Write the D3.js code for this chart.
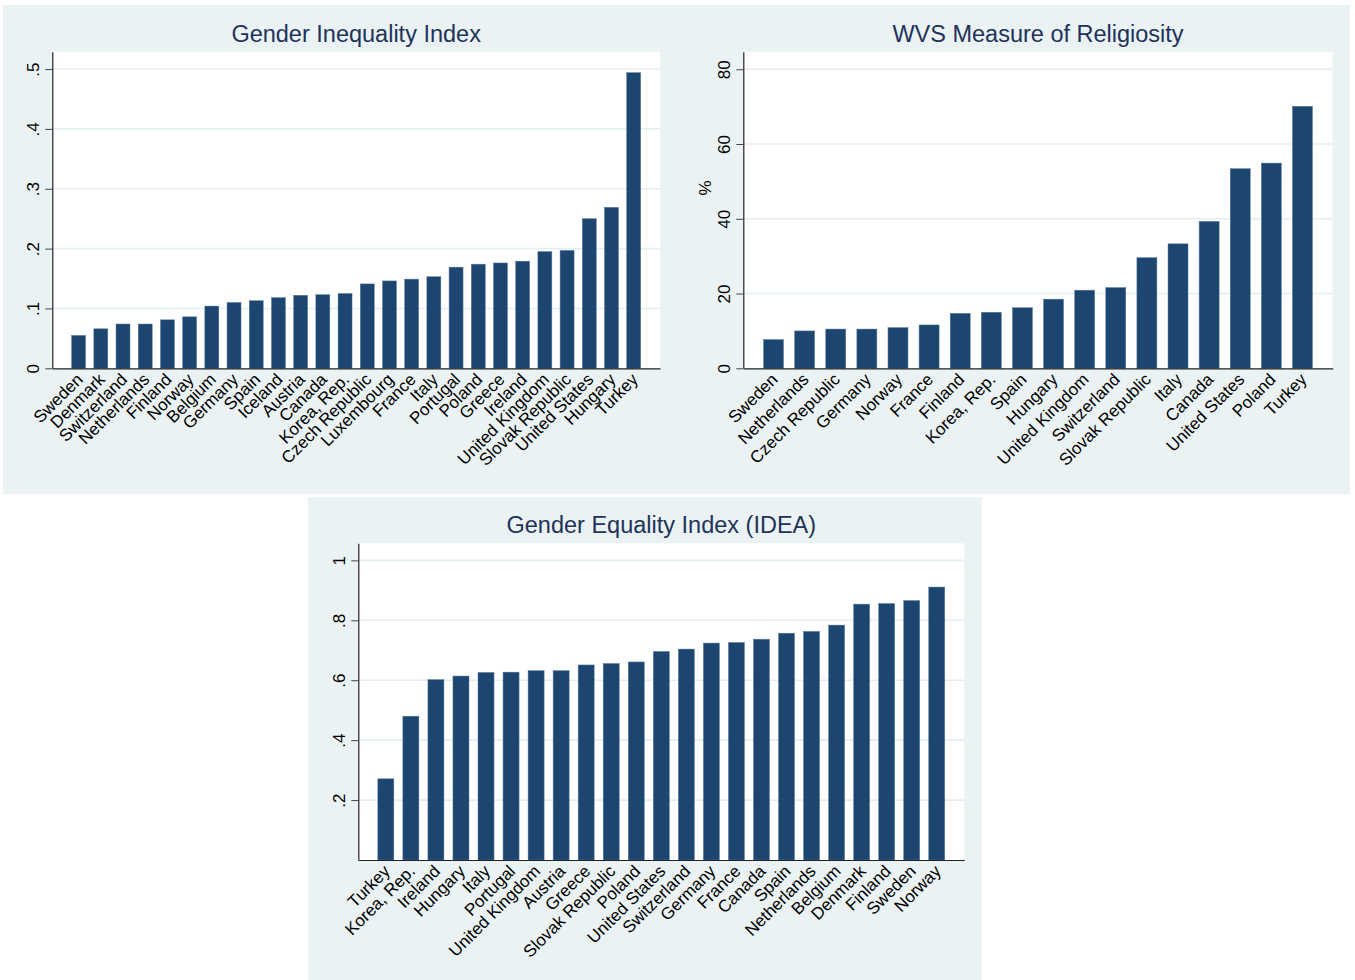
<!DOCTYPE html>
<html>
<head>
<meta charset="utf-8">
<script src="https://cdn.jsdelivr.net/npm/d3@7"></script>
<style>
  body { margin: 0; background: #ffffff; }
  svg { display: block; font-family: "Liberation Sans", Arial, Helvetica, sans-serif; }
</style>
</head>
<body>
<svg id="chart" width="1355" height="980"></svg>
<script>
// ---- Gender Inequality Index ----
const giiCountries = ["Sweden", "Denmark", "Switzerland", "Netherlands", "Finland", "Norway",
  "Belgium", "Germany", "Spain", "Iceland", "Austria", "Canada", "Korea, Rep.",
  "Czech Republic", "Luxembourg", "France", "Italy", "Portugal", "Poland", "Greece",
  "Ireland", "United Kingdom", "Slovak Republic", "United States", "Hungary", "Turkey"];
const giiValues = [0.055, 0.066, 0.074, 0.074, 0.081, 0.086,
  0.104, 0.110, 0.113, 0.118, 0.122, 0.123, 0.125,
  0.141, 0.146, 0.149, 0.153, 0.169, 0.174, 0.176,
  0.179, 0.195, 0.197, 0.250, 0.269, 0.494];
const giiTicks = [0, 0.1, 0.2, 0.3, 0.4, 0.5];
const giiTickLabels = ["0", ".1", ".2", ".3", ".4", ".5"];

// ---- WVS Measure of Religiosity ----
const wvsCountries = ["Sweden", "Netherlands", "Czech Republic", "Germany", "Norway", "France",
  "Finland", "Korea, Rep.", "Spain", "Hungary", "United Kingdom", "Switzerland",
  "Slovak Republic", "Italy", "Canada", "United States", "Poland", "Turkey"];
const wvsValues = [7.7, 10.0, 10.5, 10.5, 10.9, 11.6,
  14.7, 15.0, 16.2, 18.5, 20.9, 21.6,
  29.6, 33.3, 39.3, 53.4, 54.9, 70.1];
const wvsTicks = [0, 20, 40, 60, 80];
const wvsTickLabels = ["0", "20", "40", "60", "80"];

// ---- Gender Equality Index (IDEA) ----
const ideaCountries = ["Turkey", "Korea, Rep.", "Ireland", "Hungary", "Italy", "Portugal",
  "United Kingdom", "Austria", "Greece", "Slovak Republic", "Poland", "United States",
  "Switzerland", "Germany", "France", "Canada", "Spain", "Netherlands", "Belgium",
  "Denmark", "Finland", "Sweden", "Norway"];
const ideaValues = [0.271, 0.480, 0.602, 0.614, 0.626, 0.627,
  0.632, 0.632, 0.651, 0.656, 0.661, 0.696,
  0.704, 0.724, 0.726, 0.737, 0.757, 0.763, 0.784,
  0.854, 0.856, 0.866, 0.911];
const ideaTicks = [0.2, 0.4, 0.6, 0.8, 1];
const ideaTickLabels = [".2", ".4", ".6", ".8", "1"];

const svg = d3.select("#chart");
const PANEL_BG = "#eaf2f3";
const BAR_FILL = "#1c4670";
const TITLE_COLOR = "#22335a";

// Background regions: one strip for the two upper charts, one for the lower chart
svg.append("rect").attr("x", 3).attr("y", 5).attr("width", 1347).attr("height", 489).attr("fill", PANEL_BG);
svg.append("rect").attr("x", 308).attr("y", 497).attr("width", 674).attr("height", 483).attr("fill", PANEL_BG);

function drawBarChart(cfg) {
  const g = svg.append("g");
  const { left, right, top, base } = cfg.plot;

  // white plot region
  g.append("rect").attr("x", left).attr("y", top)
    .attr("width", right - left).attr("height", base - top).attr("fill", "#ffffff");

  const x = d3.scaleBand().domain(cfg.categories).range([left, right])
    .paddingInner(cfg.padInner).paddingOuter(cfg.padOuter);
  const y = d3.scaleLinear().domain([0, cfg.yMax]).range([base, top]);

  // horizontal grid lines
  g.append("g").selectAll("line")
    .data(cfg.ticks.filter(t => t > 0))
    .join("line")
    .attr("x1", left).attr("x2", right)
    .attr("y1", d => y(d)).attr("y2", d => y(d))
    .attr("stroke", "#e4eef1").attr("stroke-width", 1.6);

  // bars
  g.append("g").selectAll("rect")
    .data(cfg.values)
    .join("rect")
    .attr("x", (d, i) => x(cfg.categories[i]))
    .attr("width", x.bandwidth())
    .attr("y", d => y(d))
    .attr("height", d => y(0) - y(d))
    .attr("fill", BAR_FILL)
    .attr("stroke", "#5d7e9c").attr("stroke-width", 0.5);

  // y axis
  const yAxis = d3.axisLeft(y)
    .tickValues(cfg.ticks)
    .tickFormat((d, i) => cfg.tickLabels[i])
    .tickSize(7).tickSizeOuter(0);
  const ya = g.append("g").attr("transform", `translate(${left},0)`).call(yAxis);
  ya.select(".domain").attr("stroke", "#222").attr("stroke-width", 1.2);
  ya.selectAll(".tick line").attr("stroke", "#444").attr("stroke-width", 1);
  ya.selectAll(".tick text")
    .attr("x", 0).attr("y", -13).attr("dy", 0)
    .attr("transform", "rotate(-90)")
    .attr("text-anchor", "middle")
    .attr("fill", "#000")
    .style("font-size", "17px");

  // x axis with slanted category labels
  const xAxis = d3.axisBottom(x).tickSize(0).tickSizeOuter(0);
  const xa = g.append("g").attr("transform", `translate(0,${base})`).call(xAxis);
  xa.select(".domain").attr("stroke", "#222").attr("stroke-width", 1.2);
  xa.selectAll(".tick text")
    .attr("x", 0).attr("y", 0).attr("dy", "0.35em")
    .attr("transform", "translate(1,8) rotate(-45)")
    .attr("text-anchor", "end")
    .attr("fill", "#000")
    .style("font-size", "17px");

  // title
  g.append("text")
    .attr("x", (left + right) / 2).attr("y", cfg.titleY)
    .attr("text-anchor", "middle")
    .attr("fill", TITLE_COLOR)
    .style("font-size", "23.5px")
    .text(cfg.title);

  // optional y-axis title
  if (cfg.yTitle) {
    g.append("text")
      .attr("transform", `translate(${cfg.yTitle.x},${cfg.yTitle.y}) rotate(-90)`)
      .attr("text-anchor", "middle")
      .attr("fill", "#000")
      .style("font-size", "17px")
      .text(cfg.yTitle.text);
  }
}

drawBarChart({
  categories: giiCountries, values: giiValues,
  ticks: giiTicks, tickLabels: giiTickLabels,
  yMax: 0.529,
  plot: { left: 52.3, right: 660, top: 51.7, base: 368.3 },
  padInner: 0.37, padOuter: 0.87,
  title: "Gender Inequality Index", titleY: 42
});

drawBarChart({
  categories: wvsCountries, values: wvsValues,
  ticks: wvsTicks, tickLabels: wvsTickLabels,
  yMax: 84.7,
  plot: { left: 743.3, right: 1332.7, top: 51.7, base: 368.3 },
  padInner: 0.357, padOuter: 0.65,
  title: "WVS Measure of Religiosity", titleY: 42,
  yTitle: { text: "%", x: 711, y: 188 }
});

drawBarChart({
  categories: ideaCountries, values: ideaValues,
  ticks: ideaTicks, tickLabels: ideaTickLabels,
  yMax: 1.057,
  plot: { left: 358.3, right: 964.3, top: 543.3, base: 860 },
  padInner: 0.36, padOuter: 0.78,
  title: "Gender Equality Index (IDEA)", titleY: 533
});
</script>
</body>
</html>
